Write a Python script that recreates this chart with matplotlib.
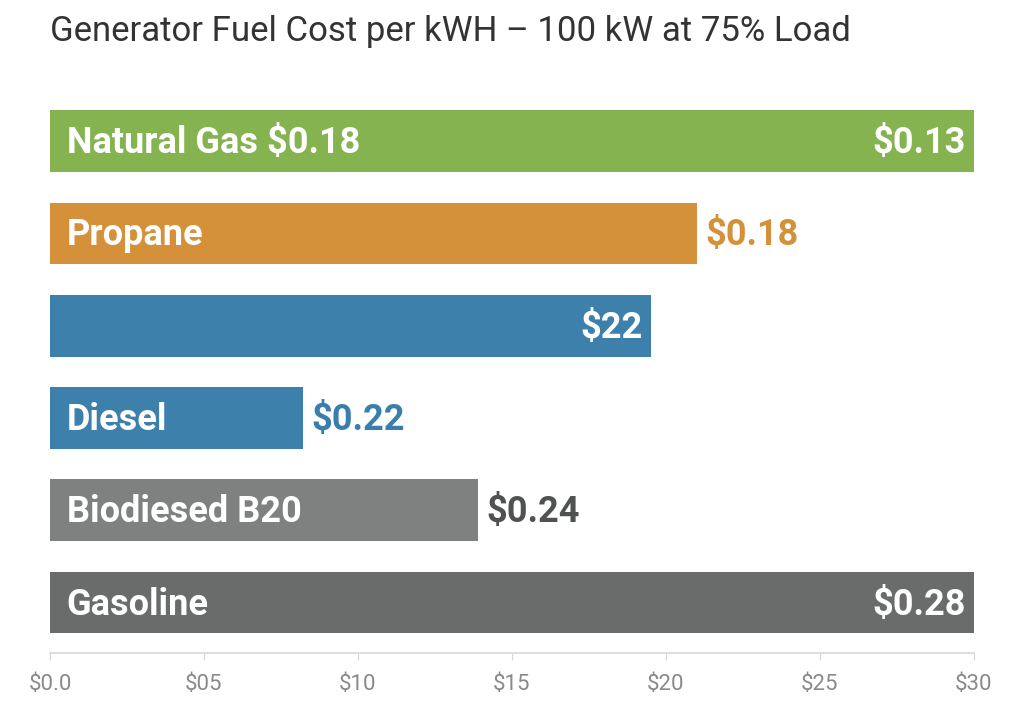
"""
Generator fuel cost per kWh - horizontal bar chart
"""
import matplotlib
matplotlib.use("Agg")
import matplotlib.pyplot as plt

# data
fuels = ["Natural Gas $0.18", "Propane", "", "Diesel", "Biodiesed B20", "Gasoline"]
values = [30.0, 21.0, 19.5, 8.2, 13.9, 30.0]
value_labels = ["$0.13", "$0.18", "$22", "$0.22", "$0.24", "$0.28"]
value_inside = [True, False, True, False, False, True]
tick_values = [0, 5, 10, 15, 20, 25, 30]
tick_labels = ["$0.0", "$05", "$10", "$15", "$20", "$25", "$30"]

bar_colors = ["#84b350", "#d4913a", "#3d80ab", "#3d80ab", "#7f8181", "#6a6b6b"]
outside_colors = ["#84b350", "#d4913a", "#3d80ab", "#3a7eab", "#505252", "#6a6b6b"]

plt.rcParams['font.family'] = ['Roboto', 'DejaVu Sans']

fig = plt.figure(figsize=(10.24, 7.10), dpi=100)
ax = fig.add_axes([50 / 1024, 57 / 710, 924 / 1024, 558 / 710])

pos = list(range(len(fuels)))
bars = ax.barh(pos, values, height=0.67, color=bar_colors, edgecolor='none')

for i, bar in enumerate(bars):
    yc = bar.get_y() + bar.get_height() / 2
    w = bar.get_width()
    if fuels[i]:
        ax.annotate(fuels[i], (0, yc), xytext=(12, -1.5), textcoords='offset points',
                    ha='left', va='center', color='white', fontsize=26,
                    fontweight='bold')
    if value_inside[i]:
        ax.annotate(value_labels[i], (w, yc), xytext=(-6, -1.5), textcoords='offset points',
                    ha='right', va='center', color='white', fontsize=26,
                    fontweight='bold')
    else:
        ax.annotate(value_labels[i], (w, yc), xytext=(6, -1.5), textcoords='offset points',
                    ha='left', va='center', color=outside_colors[i], fontsize=26,
                    fontweight='bold')

ax.set_xlim(0, 30)
ax.set_ylim(len(fuels) - 0.453, -0.5)
ax.set_yticks([])
ax.set_xticks(tick_values)
ax.set_xticklabels(tick_labels, color='#8a8a8a', fontsize=16)
ax.tick_params(axis='x', length=5, color='#d8d8d8', pad=10)
for side in ['top', 'right', 'left']:
    ax.spines[side].set_visible(False)
ax.spines['bottom'].set_color('#d8d8d8')
ax.spines['bottom'].set_linewidth(1.2)

fig.text(50 / 1024, 1 - 31 / 710, "Generator Fuel Cost per kWH \u2013 100 kW at 75% Load",
         ha='left', va='center', fontsize=25, color='#333333')

fig.savefig("out.png", dpi=100)
